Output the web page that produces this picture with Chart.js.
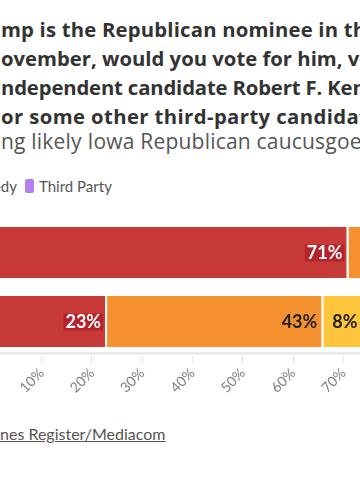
<!DOCTYPE html>
<html><head><meta charset="utf-8">
<script src="https://cdn.jsdelivr.net/npm/chart.js@4/dist/chart.umd.min.js"></script>
<style>
html,body{margin:0;padding:0;width:360px;height:504px;overflow:hidden;background:#fff;font-family:Lato,"Noto Sans",sans-serif;}
.t{position:absolute;left:1px;white-space:nowrap;font-family:"Open Sans";font-weight:700;font-size:20.3px;color:#333;line-height:29px}
.sub{font-weight:400;color:#555;font-size:21px;letter-spacing:0.2px}
.pre{position:absolute;right:100%;top:0;white-space:nowrap}
#legend{position:absolute;left:25px;top:177px;display:inline-flex;align-items:center;font-size:15px;color:#555;white-space:nowrap;line-height:18px}
#legend .pre{display:flex;align-items:center;margin-right:8px}
.item{display:inline-flex;align-items:center;margin-right:8px}
.sw{display:inline-block;width:9px;height:14px;border-radius:2px;margin-right:5px}
#src{position:absolute;left:0;top:424px;font-size:16px;color:#555;line-height:1.2;white-space:nowrap}
#src a{color:#555;text-decoration:underline}
#wrap{position:absolute;left:-100px;top:200px;width:700px;height:240px}
</style></head>
<body>
<div class="t" style="top:15px;letter-spacing:0.2px"><span class="pre">If Donald Tru</span>mp is the Republican nominee in the general election in</div>
<div class="t" style="top:44px"><span class="pre">in N</span>ovember, would you vote for him, vote for Democrat Joe Biden,</div>
<div class="t" style="top:73px;letter-spacing:-0.15px"><span class="pre">i</span>ndependent candidate Robert F. Kennedy Jr.</div>
<div class="t" style="top:102px;letter-spacing:0.4px">or some other third-party candidate?</div>
<div class="t sub" style="top:127px"><span class="pre">Amo</span>ng likely Iowa Republican caucusgoers</div>
<div id="legend"></div>
<div id="src"><span class="pre">Source: Des Moi</span><a>nes Register/Mediacom</a></div>
<div id="wrap"><canvas id="c"></canvas></div>
<script>
const categories = ["All likely caucusgoers", "Haley supporters"];
const seriesNames = ["Trump", "Biden", "Kennedy", "Third Party"];
const trumpVals = [71, 23];
const bidenVals = [13, 43];
const kennedyVals = [10, 8];
const thirdVals = [4, 9];
const tickLabels = ["0%","10%","20%","30%","40%","50%","60%","70%","80%","90%","100%"];
const colors = ["#c73a37", "#f6912f", "#fdc53c", "#b27ef0"];

const leg = document.getElementById('legend');
const pre = document.createElement('span'); pre.className = 'pre';
seriesNames.forEach((n, i) => {
  const it = document.createElement('span'); it.className = 'item';
  it.innerHTML = '<span class="sw" style="background:' + colors[i] + '"></span>' + n;
  if (i < seriesNames.length - 1) pre.appendChild(it); else { it.style.marginRight = '0'; leg.appendChild(it); }
});
pre.lastChild.style.marginRight = '0';
leg.appendChild(pre);

const labelPlugin = {
  id: 'segLabels',
  afterDatasetsDraw(chart) {
    const ctx = chart.ctx;
    ctx.save();
    ctx.font = '700 18px Lato';
    ctx.textAlign = 'right';
    ctx.textBaseline = 'middle';
    chart.data.datasets.forEach((ds, di) => {
      const meta = chart.getDatasetMeta(di);
      meta.data.forEach((bar, i) => {
        const v = ds.data[i];
        if (v < 4) return;
        const txt = v + '%';
        const xr = bar.x - 6;
        const w = ctx.measureText(txt).width;
        if (di === 0) {
          ctx.fillStyle = '#b4232b';
          ctx.fillRect(xr - w - 2, bar.y - 8, w + 4, 17);
          ctx.fillStyle = '#ffffff';
        } else {
          ctx.fillStyle = '#222222';
        }
        ctx.fillText(txt, xr, bar.y + 1);
      });
    });
    const a = chart.chartArea;
    ctx.fillStyle = '#ececec';
    ctx.fillRect(a.left, a.bottom - 4, a.right - a.left, 3);
    ctx.restore();
  }
};

const mk = (i, data) => ({
  label: seriesNames[i], data, backgroundColor: colors[i],
  borderColor: '#ffffff', borderWidth: {top:0, bottom:0, left:0, right:2}, borderSkipped: false,
  barPercentage: 0.739, categoryPercentage: 1
});

new Chart(document.getElementById('c'), {
  type: 'bar',
  data: { labels: categories, datasets: [mk(0, trumpVals), mk(1, bidenVals), mk(2, kennedyVals), mk(3, thirdVals)] },
  options: {
    indexAxis: 'y', responsive: true, maintainAspectRatio: false, animation: false,
    layout: { padding: { left: 91.4, right: 105.7, top: 18, bottom: 0 } },
    plugins: { legend: { display: false }, tooltip: { enabled: false } },
    scales: {
      x: {
        stacked: true, min: 0, max: 100,
        border: { display: false },
        grid: { drawOnChartArea: false, drawTicks: true, tickLength: 7, color: '#e4e4e4' },
        ticks: { stepSize: 10, minRotation: 45, maxRotation: 45, padding: 2, color: '#808080', font: { family: 'Lato', size: 14 },
          callback: (v, i) => tickLabels[i] },
        afterFit: s => { s.height = 84; }
      },
      y: { stacked: true, display: false }
    }
  },
  plugins: [labelPlugin]
});
</script>
</body></html>
